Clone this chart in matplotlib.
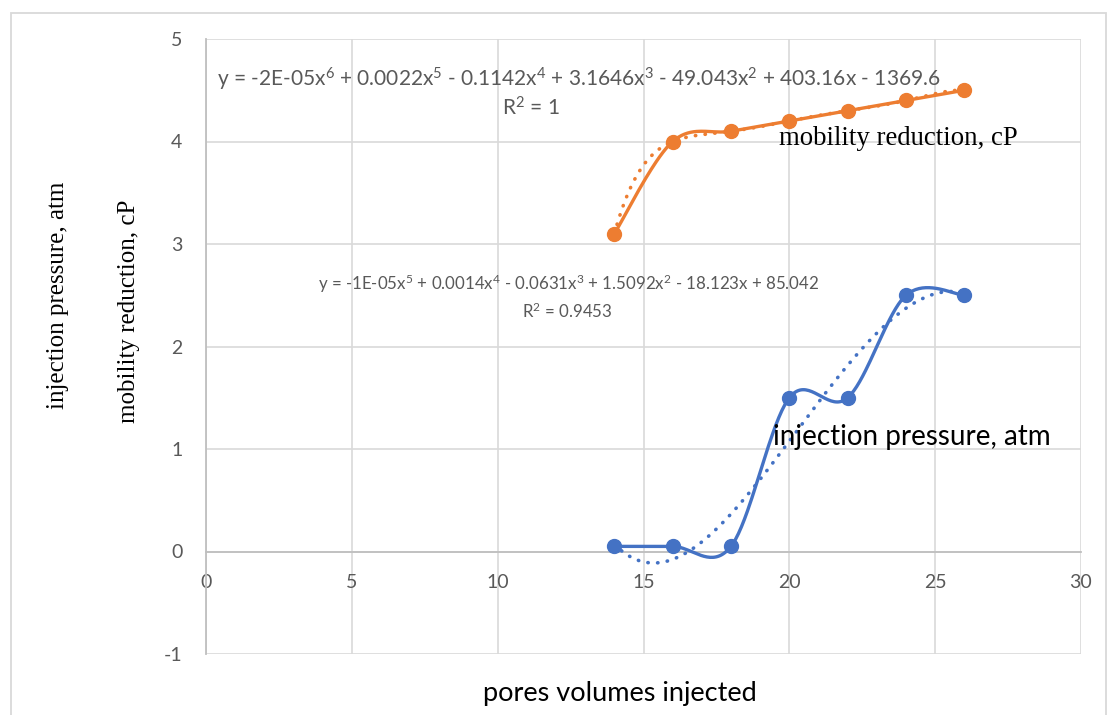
import numpy as np
import matplotlib
matplotlib.use("Agg")
import matplotlib.pyplot as plt
from matplotlib.patches import Rectangle

plt.rcParams["axes.unicode_minus"] = False
plt.rcParams["mathtext.fontset"] = "custom"
plt.rcParams["mathtext.rm"] = "Lato"
plt.rcParams["mathtext.it"] = "Lato:italic"
plt.rcParams["mathtext.bf"] = "Lato:bold"
plt.rcParams["mathtext.default"] = "rm"

# ---------------- data ----------------
pore_volumes = [14, 16, 18, 20, 22, 24, 26]
mobility_reduction = [3.1, 4.0, 4.1, 4.2, 4.3, 4.4, 4.5]
injection_pressure = [0.05, 0.05, 0.05, 1.5, 1.5, 2.5, 2.5]
x_ticks = [0, 5, 10, 15, 20, 25, 30]
y_ticks = [-1, 0, 1, 2, 3, 4, 5]
orange_eq = r"y = -2E-05x$^{6}$ + 0.0022x$^{5}$ - 0.1142x$^{4}$ + 3.1646x$^{3}$ - 49.043x$^{2}$ + 403.16x - 1369.6"
orange_r2 = r"R$^{2}$ = 1"
blue_eq = r"y = -1E-05x$^{5}$ + 0.0014x$^{4}$ - 0.0631x$^{3}$ + 1.5092x$^{2}$ - 18.123x + 85.042"
blue_r2 = r"R$^{2}$ = 0.9453"

BLUE = "#4472C4"
ORANGE = "#ED7D31"
GRID = "#D9D9D9"
AXIS = "#BFBFBF"
TXT = "#595959"
SANS = ["Lato", "DejaVu Sans"]
SERIF = ["Liberation Serif", "DejaVu Serif"]


def smooth(xs, ys, n=40):
    """Excel-like smoothed line (Catmull-Rom as cubic Bezier)."""
    x = np.asarray(xs, float)
    y = np.asarray(ys, float)
    P = np.column_stack([x, y])
    P = np.vstack([P[0], P, P[-1]])
    out = []
    t = np.linspace(0, 1, n)[:, None]
    for i in range(1, len(P) - 2):
        p0, p1, p2, p3 = P[i - 1], P[i], P[i + 1], P[i + 2]
        c1 = p1 + (p2 - p0) / 6.0
        c2 = p2 - (p3 - p1) / 6.0
        seg = ((1 - t) ** 3) * p1 + 3 * ((1 - t) ** 2) * t * c1 + 3 * (1 - t) * t ** 2 * c2 + t ** 3 * p2
        out.append(seg if i == 1 else seg[1:])
    s = np.vstack(out)
    return s[:, 0], s[:, 1]


fig = plt.figure(figsize=(11.07, 7.15), dpi=100)
ax = fig.add_axes([206 / 1107, 1 - 654 / 715, (1081 - 206) / 1107, (654 - 39) / 715])

ax.set_xlim(0, 30)
ax.set_ylim(-1, 5)
ax.set_xticks(x_ticks)
ax.set_yticks(y_ticks)
ax.grid(True, color=GRID, lw=1.2, zorder=0)
ax.set_axisbelow(True)
for s in ["top", "right"]:
    ax.spines[s].set_visible(False)
ax.spines["left"].set_color(AXIS)
ax.spines["left"].set_linewidth(1.3)
ax.spines["bottom"].set_position(("data", 0))
ax.spines["bottom"].set_color(AXIS)
ax.spines["bottom"].set_linewidth(1.3)
ax.tick_params(axis="both", length=0, labelsize=14, labelcolor=TXT)
ax.tick_params(axis="x", pad=16)
ax.tick_params(axis="y", pad=17)
for lab in ax.get_xticklabels() + ax.get_yticklabels():
    lab.set_family(SANS)

# trendlines (polynomial fits)
xf = np.linspace(min(pore_volumes), max(pore_volumes), 300)
co = np.polyfit(pore_volumes, mobility_reduction, 6)
cb = np.polyfit(pore_volumes, injection_pressure, 5)
ax.plot(xf, np.polyval(co, xf), color=ORANGE, lw=2.6, ls=(0, (0.1, 2.6)),
        dash_capstyle="round", zorder=3)
ax.plot(xf, np.polyval(cb, xf), color=BLUE, lw=2.6, ls=(0, (0.1, 2.6)),
        dash_capstyle="round", zorder=3)

# smoothed series
sx, sy = smooth(pore_volumes, mobility_reduction)
ax.plot(sx, sy, color=ORANGE, lw=2.4, zorder=4, solid_capstyle="round")
ax.plot(pore_volumes, mobility_reduction, ls="none", marker="o", ms=10,
        color=ORANGE, zorder=5)
sx, sy = smooth(pore_volumes, injection_pressure)
ax.plot(sx, sy, color=BLUE, lw=2.4, zorder=4, solid_capstyle="round")
ax.plot(pore_volumes, injection_pressure, ls="none", marker="o", ms=10,
        color=BLUE, zorder=5)

# trendline labels
ax.text(12.77, 4.61, orange_eq, ha="center", va="center", fontsize=15,
        color=TXT, family=SANS, zorder=6)
ax.text(11.15, 4.33, orange_r2, ha="center", va="center", fontsize=15,
        color=TXT, family=SANS, zorder=6)
ax.text(12.43, 2.61, blue_eq, ha="center", va="center", fontsize=12.2,
        color=TXT, family=SANS, zorder=6)
ax.text(12.4, 2.34, blue_r2, ha="center", va="center", fontsize=12.2,
        color=TXT, family=SANS, zorder=6)

# series annotations
ax.text(23.75, 4.03, "mobility reduction, cP", ha="center", va="center",
        fontsize=19.3, color="black", family=SERIF, zorder=6)
ax.text(24.2, 1.12, "injection pressure, atm", ha="center", va="center",
        fontsize=20, color="black", family=SANS, zorder=6)

# axis titles
fig.text(620 / 1107, 1 - 693 / 715, "pores volumes injected", ha="center",
         va="center", fontsize=19.5, color="black", family=SANS)
fig.text(58 / 1107, 1 - 295 / 715, "injection pressure, atm", ha="center",
         va="center", rotation=90, fontsize=18, color="black", family=SERIF)
fig.text(129 / 1107, 1 - 311 / 715, "mobility reduction, cP", ha="center",
         va="center", rotation=90, fontsize=18, color="black", family=SERIF)

# chart-area border
fig.patches.append(Rectangle((11 / 1107, -0.05), (1106 - 11) / 1107, 1 - 13 / 715 + 0.05,
                             transform=fig.transFigure, fill=False,
                             edgecolor=GRID, lw=1.3))

fig.savefig("out.png", dpi=100)
